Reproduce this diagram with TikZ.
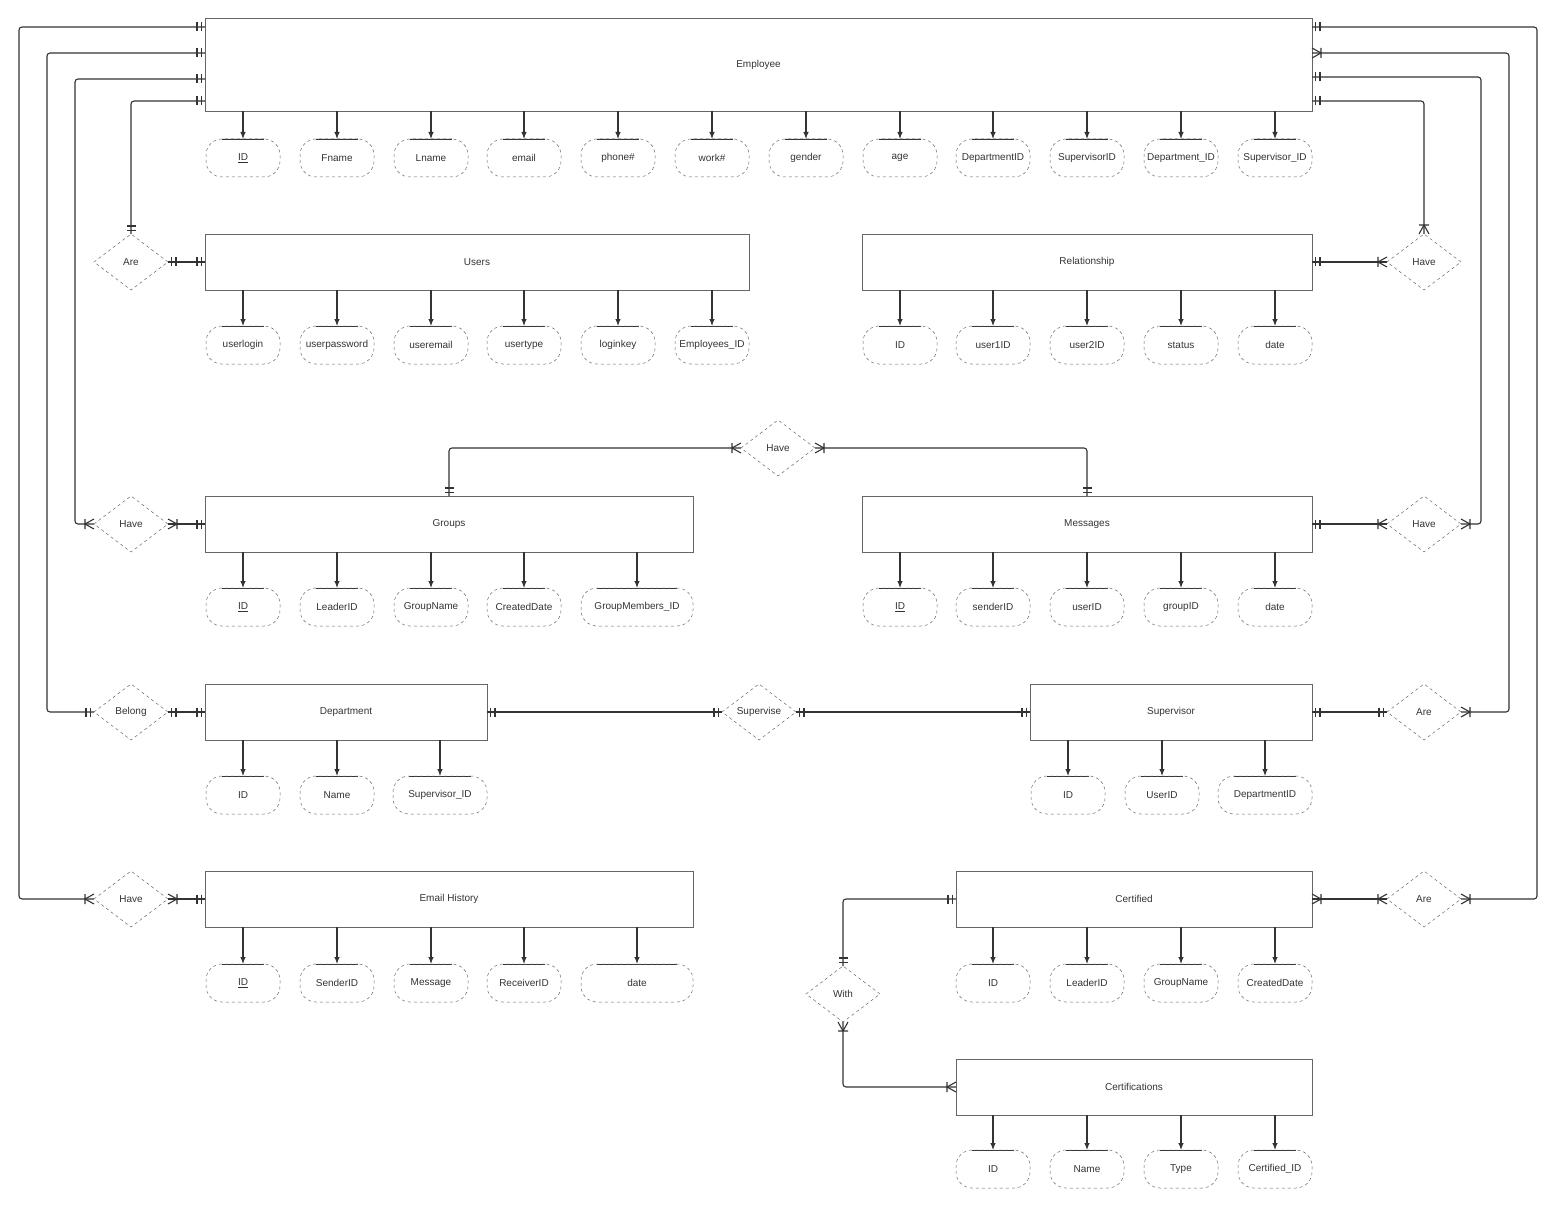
\documentclass[tikz,border=0pt]{standalone}
\usepackage{fontspec}
\setmainfont{Liberation Sans}
\usetikzlibrary{arrows.meta,shapes.geometric}

% one and only one
\pgfdeclarearrow{
  name = erone,
  parameters = {\the\pgfarrowlength,\the\pgfarrowwidth},
  defaults = {length = 8pt, width = 9pt},
  setup code = {
    \pgfarrowssettipend{0pt}
    \pgfarrowssetlineend{0pt}
    \pgfarrowssetbackend{-\pgfarrowlength}
    \pgfarrowssetvisualbackend{-\pgfarrowlength}
    \pgfarrowshullpoint{0pt}{.5\pgfarrowwidth}
    \pgfarrowshullpoint{0pt}{-.5\pgfarrowwidth}
    \pgfarrowshullpoint{-\pgfarrowlength}{.5\pgfarrowwidth}
    \pgfarrowshullpoint{-\pgfarrowlength}{-.5\pgfarrowwidth}
  },
  drawing code = {
    \pgfpathmoveto{\pgfqpoint{-.45\pgfarrowlength}{.5\pgfarrowwidth}}
    \pgfpathlineto{\pgfqpoint{-.45\pgfarrowlength}{-.5\pgfarrowwidth}}
    \pgfpathmoveto{\pgfqpoint{-\pgfarrowlength}{.5\pgfarrowwidth}}
    \pgfpathlineto{\pgfqpoint{-\pgfarrowlength}{-.5\pgfarrowwidth}}
    \pgfusepathqstroke
  }
}
% one or many
\pgfdeclarearrow{
  name = ermany,
  parameters = {\the\pgfarrowlength,\the\pgfarrowwidth},
  defaults = {length = 9pt, width = 10pt},
  setup code = {
    \pgfarrowssettipend{0pt}
    \pgfarrowssetlineend{0pt}
    \pgfarrowssetbackend{-\pgfarrowlength}
    \pgfarrowssetvisualbackend{-\pgfarrowlength}
    \pgfarrowshullpoint{0pt}{.5\pgfarrowwidth}
    \pgfarrowshullpoint{0pt}{-.5\pgfarrowwidth}
    \pgfarrowshullpoint{-\pgfarrowlength}{.5\pgfarrowwidth}
    \pgfarrowshullpoint{-\pgfarrowlength}{-.5\pgfarrowwidth}
  },
  drawing code = {
    \pgfpathmoveto{\pgfqpoint{0pt}{.5\pgfarrowwidth}}
    \pgfpathlineto{\pgfqpoint{-\pgfarrowlength}{0pt}}
    \pgfpathlineto{\pgfqpoint{0pt}{-.5\pgfarrowwidth}}
    \pgfpathmoveto{\pgfqpoint{-\pgfarrowlength}{.5\pgfarrowwidth}}
    \pgfpathlineto{\pgfqpoint{-\pgfarrowlength}{-.5\pgfarrowwidth}}
    \pgfusepathqstroke
  }
}

\tikzstyle{entity}=[draw=black!60,line width=0.6pt,inner sep=0pt,outer sep=0pt,text=black!80,font=\fontsize{10}{12}\selectfont]
\tikzstyle{relation}=[diamond,draw=black!60,dashed,line width=0.5pt,minimum width=74pt,minimum height=56pt,inner sep=0pt,outer sep=0pt,text=black!80,font=\fontsize{10}{12}\selectfont]
\tikzstyle{attr}=[draw=black!60,dashed,line width=0.5pt,rounded corners=16pt,minimum height=38pt,inner sep=0pt,outer sep=0pt,text=black!80,font=\fontsize{10}{12}\selectfont,
  path picture={\draw[solid,black!80,line width=1.6pt] ([xshift=16pt]path picture bounding box.north west) -- ([xshift=-16pt]path picture bounding box.north east);}]
\tikzstyle{link}=[draw=black!80,line width=1.1pt,rounded corners=3pt]
\tikzstyle{attrline}=[draw=black!80,line width=1.1pt,-{Latex[length=7pt,width=5.5pt]}]

\begin{document}
\begin{tikzpicture}[x=1pt,y=-1pt]
    \useasboundingbox (0,0) rectangle (1556,1209);
    % First we draw the entities
    \foreach \pos/\w/\h/\name/\txt in {{(758.5,64.5)/1107/93/emp/Employee}, {(477,262)/544/56/usr/Users},
        {(1087,262)/450/56/rel/Relationship}, {(449,524)/488/56/grp/Groups}, {(1087,524)/450/56/msg/Messages},
        {(346,712)/282/56/dep/Department}, {(1171,712)/282/56/sup/Supervisor}, {(449,899)/488/56/eml/Email History},
        {(1134,899)/356/56/cer/Certified}, {(1134,1087)/356/56/crs/Certifications}}
        \node[entity,minimum width=\w pt,minimum height=\h pt] (\name) at \pos {\txt};

    % Then the relationships
    \foreach \pos/\name/\txt in {{(131,262)/areU/Are}, {(1424,262)/haveR/Have}, {(778,448)/haveGM/Have},
        {(131,524)/haveG/Have}, {(1424,524)/haveM/Have}, {(131,712)/belong/Belong}, {(759,712)/supervise/Supervise},
        {(1424,712)/areS/Are}, {(131,899)/haveE/Have}, {(1424,899)/areC/Are}, {(843,994)/with/With}}
        \node[relation] (\name) at \pos {\txt};

    % Attributes of each entity
    \foreach \pos/\w/\name/\txt in {{(243,158)/74/emp1/\underline{ID}}, {(337,158)/74/emp2/Fname}, {(431,158)/74/emp3/Lname},
        {(524,158)/74/emp4/email}, {(618,158)/74/emp5/phone\#}, {(712,158)/74/emp6/work\#}, {(806,158)/74/emp7/gender},
        {(900,158)/74/emp8/age}, {(993,158)/74/emp9/DepartmentID}, {(1087,158)/74/emp10/SupervisorID},
        {(1181,158)/74/emp11/Department\_ID}, {(1275,158)/74/emp12/Supervisor\_ID},
        {(243,345)/74/usr1/userlogin}, {(337,345)/74/usr2/userpassword}, {(431,345)/74/usr3/useremail},
        {(524,345)/74/usr4/usertype}, {(618,345)/74/usr5/loginkey}, {(712,345)/74/usr6/Employees\_ID},
        {(900,345)/74/rel1/ID}, {(993,345)/74/rel2/user1ID}, {(1087,345)/74/rel3/user2ID}, {(1181,345)/74/rel4/status},
        {(1275,345)/74/rel5/date},
        {(243,607)/74/grp1/\underline{ID}}, {(337,607)/74/grp2/LeaderID}, {(431,607)/74/grp3/GroupName},
        {(524,607)/74/grp4/CreatedDate}, {(637,607)/112/grp5/GroupMembers\_ID},
        {(900,607)/74/msg1/\underline{ID}}, {(993,607)/74/msg2/senderID}, {(1087,607)/74/msg3/userID},
        {(1181,607)/74/msg4/groupID}, {(1275,607)/74/msg5/date},
        {(243,795)/74/dep1/ID}, {(337,795)/74/dep2/Name}, {(440,795)/94/dep3/Supervisor\_ID},
        {(1068,795)/74/sup1/ID}, {(1162,795)/74/sup2/UserID}, {(1265,795)/94/sup3/DepartmentID},
        {(243,983)/74/eml1/\underline{ID}}, {(337,983)/74/eml2/SenderID}, {(431,983)/74/eml3/Message},
        {(524,983)/74/eml4/ReceiverID}, {(637,983)/112/eml5/date},
        {(993,983)/74/cer1/ID}, {(1087,983)/74/cer2/LeaderID}, {(1181,983)/74/cer3/GroupName}, {(1275,983)/74/cer4/CreatedDate},
        {(993,1169)/74/crs1/ID}, {(1087,1169)/74/crs2/Name}, {(1181,1169)/74/crs3/Type}, {(1275,1169)/74/crs4/Certified\_ID}}
        \node[attr,minimum width=\w pt] (\name) at \pos {\txt};

    % Connect entities with their attributes
    \foreach \ent/\n in {emp/12, usr/6, rel/5, grp/5, msg/5, dep/3, sup/3, eml/5, cer/4, crs/4}
        \foreach \i in {1,...,\n}
            \draw[attrline] (\ent.south -| \ent\i.north) -- (\ent\i.north);

    % Left side links to Employee
    \draw[link,{erone}-{ermany}] ([yshift=-9pt]emp.north west) -- ++(-186,0) |- (haveE.west);
    \draw[link,{erone}-{erone}] ([yshift=-35pt]emp.north west) -- ++(-158,0) |- (belong.west);
    \draw[link,{erone}-{ermany}] ([yshift=-61pt]emp.north west) -- ++(-130,0) |- (haveG.west);
    \draw[link,{erone}-{erone}] ([yshift=-83pt]emp.north west) -| (areU.north);
    \draw[link,{erone}-{erone}] (areU.east) -- (usr.west);
    \draw[link,{ermany}-{erone}] (haveG.east) -- (grp.west);
    \draw[link,{erone}-{erone}] (belong.east) -- (dep.west);
    \draw[link,{ermany}-{erone}] (haveE.east) -- (eml.west);

    % Right side links to Employee
    \draw[link,{erone}-{ermany}] ([yshift=-9pt]emp.north east) -- ++(225,0) |- (areC.east);
    \draw[link,{ermany}-{ermany}] ([yshift=-35pt]emp.north east) -- ++(197,0) |- (areS.east);
    \draw[link,{erone}-{ermany}] ([yshift=-59pt]emp.north east) -- ++(169,0) |- (haveM.east);
    \draw[link,{erone}-{ermany}] ([yshift=-83pt]emp.north east) -| (haveR.north);
    \draw[link,{erone}-{ermany}] (rel.east) -- (haveR.west);
    \draw[link,{erone}-{ermany}] (msg.east) -- (haveM.west);
    \draw[link,{erone}-{erone}] (sup.east) -- (areS.west);
    \draw[link,{ermany}-{ermany}] (cer.east) -- (areC.west);

    % Links in the middle
    \draw[link,{erone}-{ermany}] (grp.north) |- (haveGM.west);
    \draw[link,{erone}-{ermany}] (msg.north) |- (haveGM.east);
    \draw[link,{erone}-{erone}] (dep.east) -- (supervise.west);
    \draw[link,{erone}-{erone}] (supervise.east) -- (sup.west);
    \draw[link,{erone}-{erone}] (cer.west) -| (with.north);
    \draw[link,{ermany}-{ermany}] (with.south) |- (crs.west);
\end{tikzpicture}
\end{document}
